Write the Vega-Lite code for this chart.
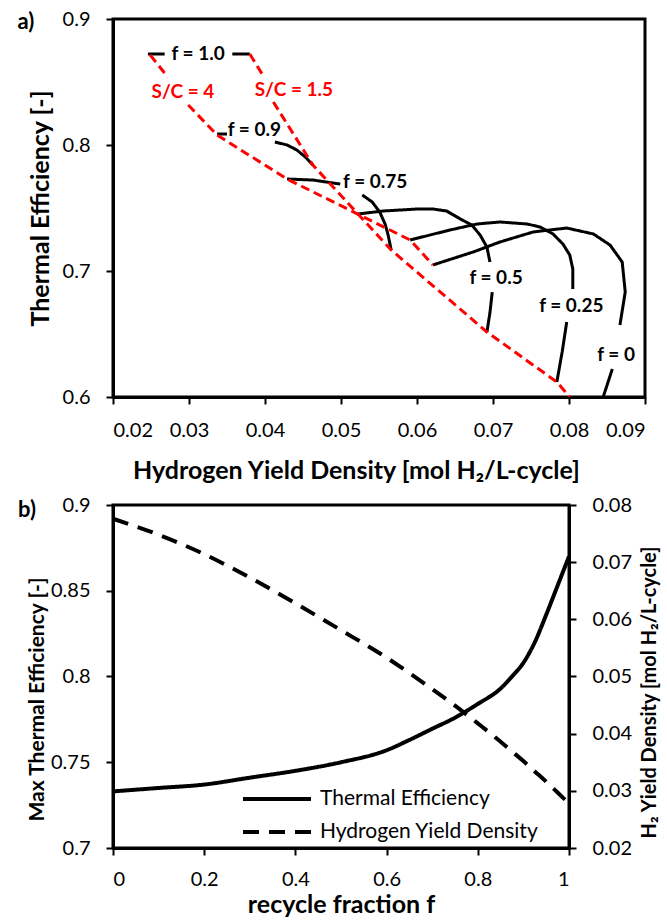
{
  "$schema": "https://vega.github.io/schema/vega-lite/v6.json",
  "padding": {"top": 7, "left": 16, "right": 2, "bottom": 2},
  "spacing": 8,
  "config": {
    "font": "Lato",
    "view": {"stroke": "black", "strokeWidth": 3},
    "axis": {
      "grid": false,
      "domainColor": "black",
      "domainWidth": 3,
      "tickColor": "black",
      "tickWidth": 2,
      "tickSize": 7,
      "labelFont": "Lato",
      "labelFontSize": 20,
      "labelColor": "black",
      "labelPadding": 16,
      "titleFont": "Lato",
      "titleFontWeight": "bold",
      "titleColor": "black"
    },
    "text": {"font": "Lato"}
  },
  "datasets": {
    "curvesA": [
      {"seg": "f1a", "kind": "f", "i": 1, "x": 0.0246, "y": 0.8722},
      {"seg": "f1a", "kind": "f", "i": 2, "x": 0.0268, "y": 0.8722},
      {"seg": "f1b", "kind": "f", "i": 1, "x": 0.0357, "y": 0.8722},
      {"seg": "f1b", "kind": "f", "i": 2, "x": 0.0380, "y": 0.8722},
      {"seg": "f09a", "kind": "f", "i": 1, "x": 0.0337, "y": 0.8087},
      {"seg": "f09a", "kind": "f", "i": 2, "x": 0.0350, "y": 0.8087},
      {"seg": "f09b", "kind": "f", "i": 1, "x": 0.0413, "y": 0.8024},
      {"seg": "f09b", "kind": "f", "i": 2, "x": 0.0429, "y": 0.8000},
      {"seg": "f09b", "kind": "f", "i": 3, "x": 0.0442, "y": 0.7960},
      {"seg": "f09b", "kind": "f", "i": 4, "x": 0.0453, "y": 0.7905},
      {"seg": "f09b", "kind": "f", "i": 5, "x": 0.0463, "y": 0.7841},
      {"seg": "f075a", "kind": "f", "i": 1, "x": 0.0429, "y": 0.7730},
      {"seg": "f075a", "kind": "f", "i": 2, "x": 0.0463, "y": 0.7722},
      {"seg": "f075a", "kind": "f", "i": 3, "x": 0.0499, "y": 0.7690},
      {"seg": "f075b", "kind": "f", "i": 1, "x": 0.0528, "y": 0.7603},
      {"seg": "f075b", "kind": "f", "i": 2, "x": 0.0541, "y": 0.7548},
      {"seg": "f075b", "kind": "f", "i": 3, "x": 0.0551, "y": 0.7468},
      {"seg": "f075b", "kind": "f", "i": 4, "x": 0.0558, "y": 0.7373},
      {"seg": "f075b", "kind": "f", "i": 5, "x": 0.0562, "y": 0.7286},
      {"seg": "f075b", "kind": "f", "i": 6, "x": 0.0566, "y": 0.7167},
      {"seg": "f05a", "kind": "f", "i": 1, "x": 0.0522, "y": 0.7452},
      {"seg": "f05a", "kind": "f", "i": 2, "x": 0.0555, "y": 0.7476},
      {"seg": "f05a", "kind": "f", "i": 3, "x": 0.0578, "y": 0.7484},
      {"seg": "f05a", "kind": "f", "i": 4, "x": 0.0600, "y": 0.7492},
      {"seg": "f05a", "kind": "f", "i": 5, "x": 0.0621, "y": 0.7492},
      {"seg": "f05a", "kind": "f", "i": 6, "x": 0.0639, "y": 0.7476},
      {"seg": "f05a", "kind": "f", "i": 7, "x": 0.0657, "y": 0.7413},
      {"seg": "f05a", "kind": "f", "i": 8, "x": 0.0672, "y": 0.7365},
      {"seg": "f05a", "kind": "f", "i": 9, "x": 0.0683, "y": 0.7286},
      {"seg": "f05a", "kind": "f", "i": 10, "x": 0.0692, "y": 0.7190},
      {"seg": "f05a", "kind": "f", "i": 11, "x": 0.0696, "y": 0.7071},
      {"seg": "f05b", "kind": "f", "i": 1, "x": 0.0699, "y": 0.6833},
      {"seg": "f05b", "kind": "f", "i": 2, "x": 0.0696, "y": 0.6670},
      {"seg": "f05b", "kind": "f", "i": 3, "x": 0.0692, "y": 0.6516},
      {"seg": "f025a", "kind": "f", "i": 1, "x": 0.0591, "y": 0.7246},
      {"seg": "f025a", "kind": "f", "i": 2, "x": 0.0643, "y": 0.7325},
      {"seg": "f025a", "kind": "f", "i": 3, "x": 0.0679, "y": 0.7373},
      {"seg": "f025a", "kind": "f", "i": 4, "x": 0.0709, "y": 0.7389},
      {"seg": "f025a", "kind": "f", "i": 5, "x": 0.0745, "y": 0.7373},
      {"seg": "f025a", "kind": "f", "i": 6, "x": 0.0762, "y": 0.7349},
      {"seg": "f025a", "kind": "f", "i": 7, "x": 0.0779, "y": 0.7294},
      {"seg": "f025a", "kind": "f", "i": 8, "x": 0.0792, "y": 0.7214},
      {"seg": "f025a", "kind": "f", "i": 9, "x": 0.0801, "y": 0.7127},
      {"seg": "f025a", "kind": "f", "i": 10, "x": 0.0805, "y": 0.7016},
      {"seg": "f025a", "kind": "f", "i": 11, "x": 0.0805, "y": 0.6857},
      {"seg": "f025b", "kind": "f", "i": 1, "x": 0.0797, "y": 0.6595},
      {"seg": "f025b", "kind": "f", "i": 2, "x": 0.0791, "y": 0.6357},
      {"seg": "f025b", "kind": "f", "i": 3, "x": 0.0784, "y": 0.6119},
      {"seg": "f0a", "kind": "f", "i": 1, "x": 0.0621, "y": 0.7048},
      {"seg": "f0a", "kind": "f", "i": 2, "x": 0.0674, "y": 0.7151},
      {"seg": "f0a", "kind": "f", "i": 3, "x": 0.0709, "y": 0.7230},
      {"seg": "f0a", "kind": "f", "i": 4, "x": 0.0753, "y": 0.7310},
      {"seg": "f0a", "kind": "f", "i": 5, "x": 0.0797, "y": 0.7341},
      {"seg": "f0a", "kind": "f", "i": 6, "x": 0.0832, "y": 0.7294},
      {"seg": "f0a", "kind": "f", "i": 7, "x": 0.0854, "y": 0.7206},
      {"seg": "f0a", "kind": "f", "i": 8, "x": 0.0870, "y": 0.7071},
      {"seg": "f0a", "kind": "f", "i": 9, "x": 0.0874, "y": 0.6833},
      {"seg": "f0a", "kind": "f", "i": 10, "x": 0.0867, "y": 0.6571},
      {"seg": "f0b", "kind": "f", "i": 1, "x": 0.0857, "y": 0.6222},
      {"seg": "f0b", "kind": "f", "i": 2, "x": 0.0845, "y": 0.6000},
      {"seg": "sc4a", "kind": "SC", "i": 1, "x": 0.0249, "y": 0.8714},
      {"seg": "sc4a", "kind": "SC", "i": 2, "x": 0.0272, "y": 0.8540},
      {"seg": "sc4b", "kind": "SC", "i": 1, "x": 0.0299, "y": 0.8317},
      {"seg": "sc4b", "kind": "SC", "i": 2, "x": 0.0337, "y": 0.8079},
      {"seg": "sc4b", "kind": "SC", "i": 3, "x": 0.0429, "y": 0.7730},
      {"seg": "sc4b", "kind": "SC", "i": 4, "x": 0.0522, "y": 0.7452},
      {"seg": "sc4b", "kind": "SC", "i": 5, "x": 0.0591, "y": 0.7246},
      {"seg": "sc4b", "kind": "SC", "i": 6, "x": 0.0621, "y": 0.7048},
      {"seg": "sc15a", "kind": "SC", "i": 1, "x": 0.0380, "y": 0.8722},
      {"seg": "sc15a", "kind": "SC", "i": 2, "x": 0.0397, "y": 0.8556},
      {"seg": "sc15b", "kind": "SC", "i": 1, "x": 0.0411, "y": 0.8341},
      {"seg": "sc15b", "kind": "SC", "i": 2, "x": 0.0463, "y": 0.7841},
      {"seg": "sc15b", "kind": "SC", "i": 3, "x": 0.0566, "y": 0.7167},
      {"seg": "sc15b", "kind": "SC", "i": 4, "x": 0.0692, "y": 0.6516},
      {"seg": "sc15b", "kind": "SC", "i": 5, "x": 0.0784, "y": 0.6119},
      {"seg": "sc15b", "kind": "SC", "i": 6, "x": 0.0801, "y": 0.6000}
    ],
    "labelsA": [
      {"label": "f = 1.0", "kind": "f", "x": 0.0312, "y": 0.8722},
      {"label": "S/C = 4", "kind": "SC", "x": 0.0292, "y": 0.8421},
      {"label": "S/C = 1.5", "kind": "SC", "x": 0.0438, "y": 0.8437},
      {"label": "f = 0.9", "kind": "f", "x": 0.0386, "y": 0.8119},
      {"label": "f = 0.75", "kind": "f", "x": 0.0545, "y": 0.7706},
      {"label": "f = 0.5", "kind": "f", "x": 0.0704, "y": 0.6944},
      {"label": "f = 0.25", "kind": "f", "x": 0.0803, "y": 0.6722},
      {"label": "f = 0", "kind": "f", "x": 0.0862, "y": 0.6333}
    ],
    "panelB": [
      {"f": 0.0, "eff": 0.733, "h2": 0.0776},
      {"f": 0.1, "eff": 0.735, "h2": 0.0748},
      {"f": 0.2, "eff": 0.737, "h2": 0.0714},
      {"f": 0.3, "eff": 0.741, "h2": 0.0673},
      {"f": 0.4, "eff": 0.745, "h2": 0.0628},
      {"f": 0.5, "eff": 0.750, "h2": 0.0581},
      {"f": 0.6, "eff": 0.757, "h2": 0.0533},
      {"f": 0.65, "eff": 0.763, "h2": 0.0506},
      {"f": 0.7, "eff": 0.7695, "h2": 0.0478},
      {"f": 0.75, "eff": 0.776, "h2": 0.0449},
      {"f": 0.8, "eff": 0.784, "h2": 0.0418},
      {"f": 0.85, "eff": 0.793, "h2": 0.0386},
      {"f": 0.875, "eff": 0.800, "h2": 0.0369},
      {"f": 0.9, "eff": 0.808, "h2": 0.0352},
      {"f": 0.925, "eff": 0.820, "h2": 0.0334},
      {"f": 0.95, "eff": 0.836, "h2": 0.0316},
      {"f": 0.975, "eff": 0.853, "h2": 0.0297},
      {"f": 1.0, "eff": 0.870, "h2": 0.0278}
    ]
  },
  "vconcat": [
    {
      "width": 532,
      "height": 378,
      "layer": [
        {
          "data": {"name": "curvesA"},
          "mark": {"type": "line", "strokeWidth": 3, "clip": true},
          "encoding": {
            "x": {
              "field": "x", "type": "quantitative",
              "scale": {"domain": [0.02, 0.09], "nice": false, "zero": false},
              "axis": {
                "values": [0.02, 0.03, 0.04, 0.05, 0.06, 0.07, 0.08, 0.09],
                "format": ".2f",
                "title": "Hydrogen Yield Density [mol H₂/L-cycle]",
                "titleFontSize": 25,
                "titlePadding": 18,
                "titleX": 243
              }
            },
            "y": {
              "field": "y", "type": "quantitative",
              "scale": {"domain": [0.6, 0.9], "nice": false, "zero": false},
              "axis": {
                "values": [0.6, 0.7, 0.8, 0.9],
                "format": ".1f",
                "title": "Thermal Efficiency [-]",
                "titleFontSize": 25,
                "titlePadding": 9
              }
            },
            "detail": {"field": "seg"},
            "order": {"field": "i"},
            "color": {"field": "kind", "type": "nominal", "scale": {"domain": ["f", "SC"], "range": ["black", "#ff0000"]}, "legend": null},
            "strokeDash": {"field": "kind", "type": "nominal", "scale": {"domain": ["f", "SC"], "range": [[1, 0], [9, 5]]}, "legend": null}
          }
        },
        {
          "data": {"name": "labelsA"},
          "mark": {"type": "text", "fontWeight": "bold", "fontSize": 19, "baseline": "middle", "align": "center"},
          "encoding": {
            "x": {"field": "x", "type": "quantitative"},
            "y": {"field": "y", "type": "quantitative"},
            "text": {"field": "label"},
            "color": {"field": "kind", "type": "nominal", "scale": {"domain": ["f", "SC"], "range": ["black", "#ff0000"]}, "legend": null}
          }
        },
        {
          "data": {"values": [{"tag": "a)"}]},
          "mark": {"type": "text", "fontWeight": "bold", "fontSize": 22, "baseline": "middle", "align": "center", "dx": -87, "dy": 3, "color": "black"},
          "encoding": {
            "x": {"datum": 0.02, "type": "quantitative"},
            "y": {"datum": 0.9, "type": "quantitative"},
            "text": {"field": "tag"}
          }
        }
      ]
    },
    {
      "width": 456,
      "height": 343,
      "data": {"name": "panelB"},
      "layer": [
        {
          "layer": [
            {
              "mark": {"type": "line", "strokeWidth": 4, "color": "black", "interpolate": "monotone"},
              "encoding": {
                "x": {
                  "field": "f", "type": "quantitative",
                  "scale": {"domain": [0, 1], "nice": false},
                  "axis": {
                    "values": [0, 0.2, 0.4, 0.6, 0.8, 1],
                    "format": ".1~f",
                    "labelPadding": 14,
                    "title": "recycle fraction f",
                    "titleFontSize": 25,
                    "titlePadding": 3
                  }
                },
                "y": {
                  "field": "eff", "type": "quantitative",
                  "scale": {"domain": [0.7, 0.9], "nice": false, "zero": false},
                  "axis": {
                    "values": [0.7, 0.75, 0.8, 0.85, 0.9],
                    "format": ".2~f",
                    "title": "Max Thermal Efficiency [-]",
                    "titleFontSize": 21,
                    "titleX": -66,
                    "titleY": 194
                  }
                },
                "strokeDash": {
                  "datum": "Thermal Efficiency",
                  "type": "nominal",
                  "scale": {"domain": ["Thermal Efficiency"], "range": [[1, 0]]},
                  "legend": {
                    "title": null,
                    "orient": "none",
                    "legendX": 128,
                    "legendY": 258,
                    "symbolType": "stroke",
                    "symbolSize": 4624,
                    "symbolStrokeWidth": 4,
                    "symbolStrokeColor": "black",
                    "labelFont": "Lato",
                    "labelFontSize": 21,
                    "labelColor": "black",
                    "labelOffset": 7,
                    "labelLimit": 400,
                    "padding": 0
                  }
                }
              }
            },
            {
              "data": {"values": [{"tag": "b)"}]},
              "mark": {"type": "text", "fontWeight": "bold", "fontSize": 22, "baseline": "middle", "align": "center", "dx": -86, "dy": 5, "color": "black"},
              "encoding": {
                "x": {"datum": 0, "type": "quantitative"},
                "y": {"datum": 0.9, "type": "quantitative"},
                "text": {"field": "tag"}
              }
            }
          ]
        },
        {
          "mark": {"type": "line", "strokeWidth": 4, "strokeDash": [16, 10], "interpolate": "monotone"},
          "encoding": {
            "x": {"field": "f", "type": "quantitative"},
            "y": {
              "field": "h2", "type": "quantitative",
              "scale": {"domain": [0.02, 0.08], "nice": false, "zero": false},
              "axis": {
                "orient": "right",
                "values": [0.02, 0.03, 0.04, 0.05, 0.06, 0.07, 0.08],
                "format": ".2f",
                "title": "H₂ Yield Density [mol H₂/L-cycle]",
                "titleFontSize": 20,
                "titleAngle": 270,
                "titleBaseline": "top",
                "titlePadding": 8,
                "titleY": 187
              }
            },
            "color": {
              "datum": "Hydrogen Yield Density",
              "type": "nominal",
              "scale": {"domain": ["Hydrogen Yield Density"], "range": ["black"]},
              "legend": {
                "title": null,
                "orient": "none",
                "legendX": 128,
                "legendY": 291,
                "symbolType": "stroke",
                "symbolSize": 4624,
                "symbolStrokeWidth": 4,
                "symbolStrokeColor": "black",
                "symbolDash": [16, 10],
                "labelFont": "Lato",
                "labelFontSize": 21,
                "labelColor": "black",
                "labelOffset": 7,
                "labelLimit": 400,
                "padding": 0
              }
            }
          }
        }
      ],
      "resolve": {"scale": {"y": "independent"}}
    }
  ],
  "resolve": {"scale": {"color": "independent", "strokeDash": "independent"}}
}
